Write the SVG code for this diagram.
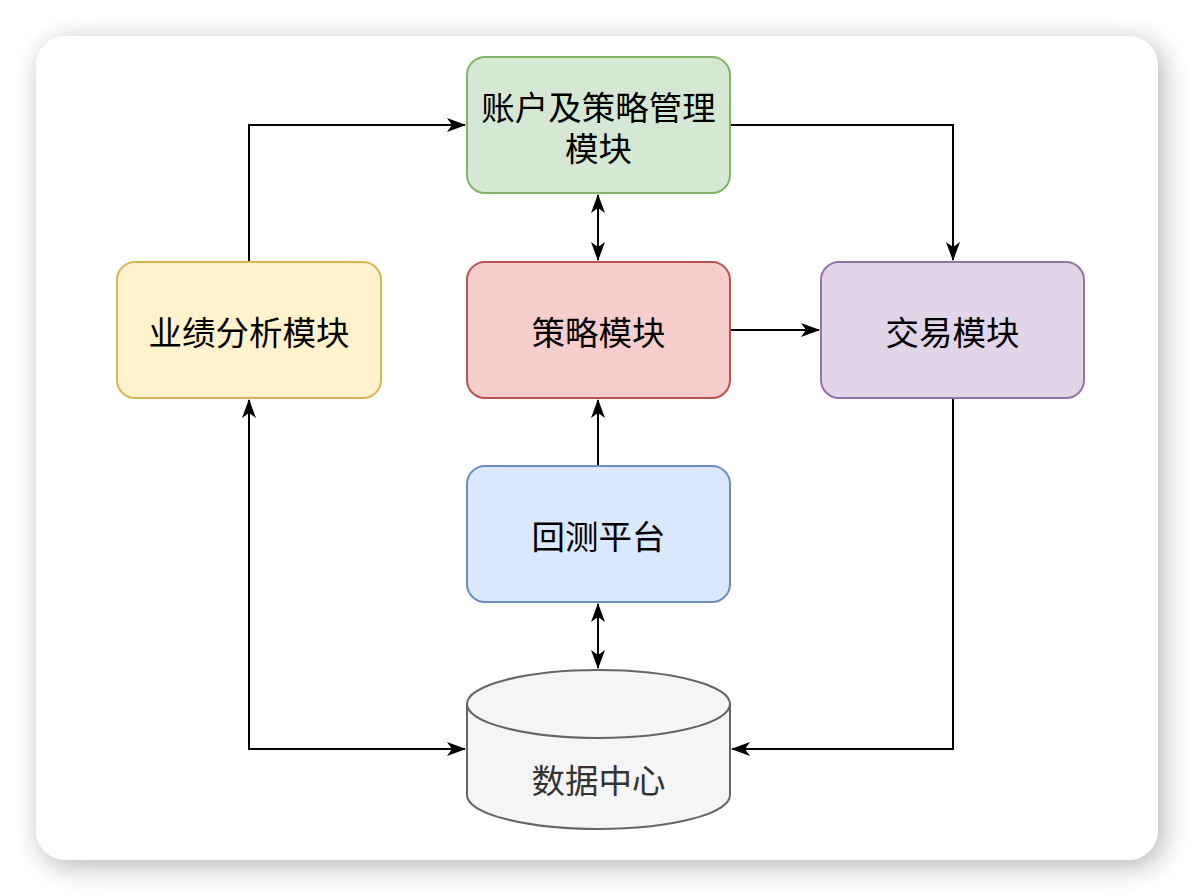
<svg xmlns="http://www.w3.org/2000/svg" width="1194" height="896" viewBox="0 0 1194 896">
<defs>
<filter id="sh" x="-10%" y="-10%" width="120%" height="120%">
<feGaussianBlur in="SourceAlpha" stdDeviation="14"/>
<feOffset dx="5" dy="6" result="b"/>
<feComponentTransfer><feFuncA type="linear" slope="0.3"/></feComponentTransfer>
<feMerge><feMergeNode/><feMergeNode in="SourceGraphic"/></feMerge>
</filter>
<marker id="arr" viewBox="0 0 19 14" refX="18" refY="7" markerWidth="19" markerHeight="14" markerUnits="userSpaceOnUse" orient="auto-start-reverse">
<path d="M0,0 L19,7 L0,14 L5,7 Z" fill="#000"/>
</marker>
</defs>
<style>
.t{font-family:"Noto Sans CJK SC","Noto Sans",sans-serif;font-size:33.5px;text-anchor:middle;dominant-baseline:central;fill:#000}
.c{fill:none;stroke:#000;stroke-width:2}
.n{stroke-width:2}
</style>
<rect width="1194" height="896" fill="#ffffff"/>
<rect x="36" y="36" width="1122" height="824" rx="30" fill="#fff" filter="url(#sh)"/>
<g id="connectors">
<path class="c" d="M249,262 V125 H465" marker-end="url(#arr)"/>
<path class="c" d="M730,125 H953 V260" marker-end="url(#arr)"/>
<path class="c" d="M598,195 V260" marker-start="url(#arr)" marker-end="url(#arr)"/>
<path class="c" d="M730,330 H819" marker-end="url(#arr)"/>
<path class="c" d="M598,466 V400" marker-end="url(#arr)"/>
<path class="c" d="M598,604 V668" marker-start="url(#arr)" marker-end="url(#arr)"/>
<path class="c" d="M953,398 V749 H732" marker-end="url(#arr)"/>
<path class="c" d="M465,749 H249 V400" marker-start="url(#arr)" marker-end="url(#arr)"/>
</g>
<g id="account">
<rect class="n" x="467" y="57" width="263" height="136" rx="18" fill="#d5e8d4" stroke="#82b366"/>
<text class="t" x="598.5" y="105">账户及策略管理<tspan x="598.5" dy="41">模块</tspan></text>
</g>
<g id="perf">
<rect class="n" x="117" y="262" width="264" height="136" rx="18" fill="#fff2cc" stroke="#d6b656"/>
<text class="t" x="249" y="330">业绩分析模块</text>
</g>
<g id="strategy">
<rect class="n" x="467" y="262" width="263" height="136" rx="18" fill="#f8cecc" stroke="#b85450"/>
<text class="t" x="598.5" y="330">策略模块</text>
</g>
<g id="trade">
<rect class="n" x="821" y="262" width="263" height="136" rx="18" fill="#e1d5e7" stroke="#9673a6"/>
<text class="t" x="952.5" y="330">交易模块</text>
</g>
<g id="backtest">
<rect class="n" x="467" y="466" width="263" height="136" rx="18" fill="#dae8fc" stroke="#6c8ebf"/>
<text class="t" x="598.5" y="534">回测平台</text>
</g>
<g id="datacenter">
<path class="n" d="M467,704 A131.5,34 0 0 1 730,704 V795 A131.5,34 0 0 1 467,795 Z" fill="#f5f5f5" stroke="#666666"/>
<path class="n" d="M467,704 A131.5,34 0 0 0 730,704" fill="none" stroke="#666666"/>
<text class="t" x="598.5" y="778" style="fill:#333333">数据中心</text>
</g>
</svg>
